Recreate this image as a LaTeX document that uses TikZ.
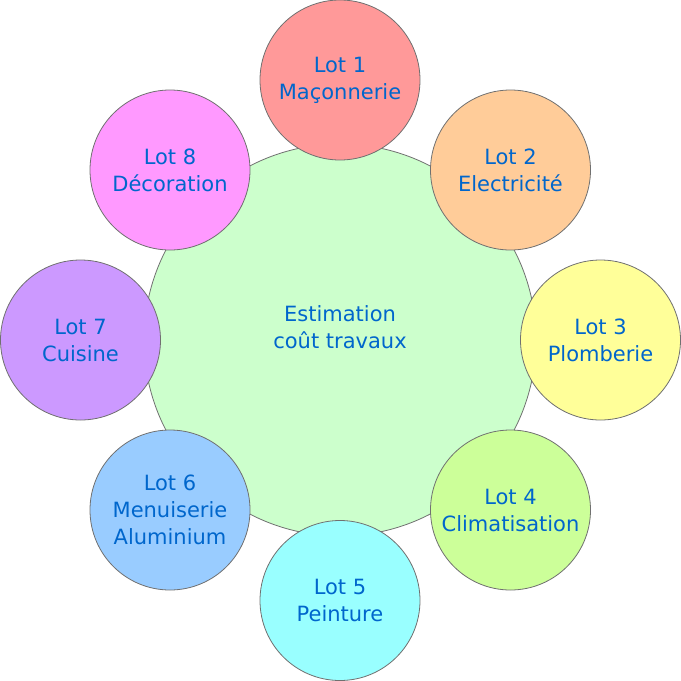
\documentclass[tikz,border=0pt]{standalone}
\usepackage{fontspec}
\setmainfont{DejaVu Sans}
\definecolor{txt}{HTML}{0066CC}
\definecolor{edge}{HTML}{707070}
\definecolor{cc}{HTML}{CCFFCC}
\definecolor{c1}{HTML}{FF9999}
\definecolor{c2}{HTML}{FFCC99}
\definecolor{c3}{HTML}{FFFF99}
\definecolor{c4}{HTML}{CCFF99}
\definecolor{c5}{HTML}{99FFFF}
\definecolor{c6}{HTML}{99CCFF}
\definecolor{c7}{HTML}{CC99FF}
\definecolor{c8}{HTML}{FF99FF}
\begin{document}
\begin{tikzpicture}[x=1pt,y=-1pt,
  lotbox/.style={circle,draw=edge,line width=0.8pt,minimum size=160pt,inner sep=0pt,
    text=txt,align=center,font=\fontsize{21}{27}\selectfont},
  hubbox/.style={circle,draw=edge,line width=0.8pt,fill=cc,minimum size=392pt,inner sep=0pt},
  hubtext/.style={text=txt,align=center,font=\fontsize{21}{27}\selectfont}]
\useasboundingbox (0,0) rectangle (681,681);
\node[hubbox] (hub) at (340,340) {};
\node[hubtext] (hubt) at (340,327) {Estimation\\coût travaux};
\node[lotbox,fill=c1] (l1) at (340,80) {Lot 1\\Maçonnerie};
\node[lotbox,fill=c2] (l2) at (510.5,170) {Lot 2\\Electricité};
\node[lotbox,fill=c3] (l3) at (600.5,340) {Lot 3\\Plomberie};
\node[lotbox,fill=c4] (l4) at (510.5,510) {Lot 4\\Climatisation};
\node[lotbox,fill=c5] (l5) at (340,600.5) {Lot 5\\Peinture};
\node[lotbox,fill=c6] (l6) at (170,510) {Lot 6\\Menuiserie\\Aluminium};
\node[lotbox,fill=c7] (l7) at (80.5,340) {Lot 7\\Cuisine};
\node[lotbox,fill=c8] (l8) at (170,170) {Lot 8\\Décoration};
\end{tikzpicture}
\end{document}
